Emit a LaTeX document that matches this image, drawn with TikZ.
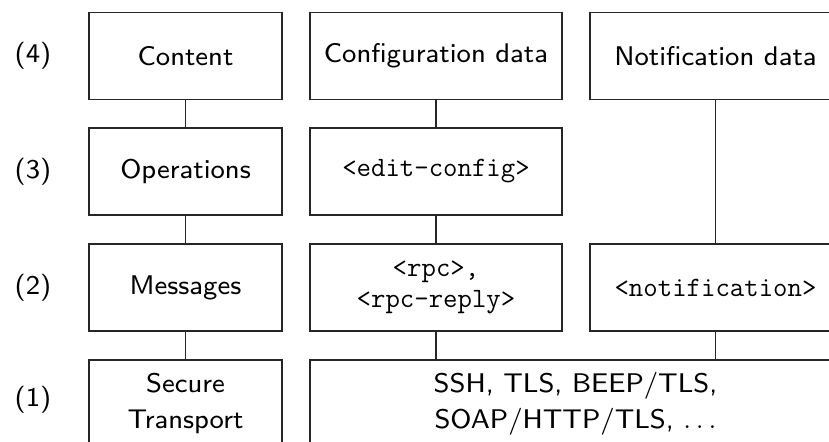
\documentclass[tikz,border=0pt]{standalone}
\usepackage{fontspec}
\setsansfont{lmsans8-regular}[Extension=.otf]
\begin{document}
\begin{tikzpicture}[x=0.5pt,y=-0.5pt,
  layer/.style={draw=black!85, line width=0.6pt, rectangle, align=center,
    inner sep=0pt, font=\sffamily\fontsize{13.5}{18}\selectfont},
  narrowcol/.style={layer, minimum width=96.5pt, minimum height=43.5pt},
  midcol/.style={layer, minimum width=126pt, minimum height=43.5pt},
  rightcol/.style={layer, minimum width=125.5pt, minimum height=43.5pt},
  tag/.style={font=\ttfamily\fontsize{14}{15.5}\selectfont},
  levellabel/.style={font=\sffamily\fontsize{13.5}{17}\selectfont},
  link/.style={draw=black!85, line width=0.6pt}]
\useasboundingbox (0,0) rectangle (829,441);
\clip (0,0) rectangle (829,441);

% level labels
\node[levellabel] (l4) at (33,56) {(4)};
\node[levellabel] (l3) at (33,171.5) {(3)};
\node[levellabel] (l2) at (33,287.5) {(2)};
\node[levellabel] (l1) at (33,400) {(1)};

% left column
\node[narrowcol] (content) at (185.5,56) {Content};
\node[narrowcol] (ops) at (185.5,171.5) {Operations};
\node[narrowcol] (msgs) at (185.5,287.5) {Messages};
\node[narrowcol] (secure) at (185.5,403.5) {Secure\\Transport};

% middle column
\node[midcol] (config) at (436,56) {Configuration data};
\node[midcol, tag] (edit) at (436,171.5) {<edit-config>};
\node[midcol, tag] (rpc) at (436,287.5) {<rpc>,\\<rpc-reply>};

% right column
\node[rightcol] (notifdata) at (715.5,56) {Notification data};
\node[rightcol, tag] (notif) at (715.5,287.5) {<notification>};

% transport protocols spanning two columns
\node[layer, minimum width=265.5pt, minimum height=43.5pt] (proto) at (575.5,403.5)
  {SSH, TLS, BEEP/TLS,\\SOAP/HTTP/TLS, $\ldots$};

% connectors
\draw[link] (content) -- (ops);
\draw[link] (ops) -- (msgs);
\draw[link] (msgs) -- (secure);
\draw[link] (config) -- (edit);
\draw[link] (edit) -- (rpc);
\draw[link] (rpc.south) -- (rpc.south |- proto.north);
\draw[link] (notifdata) -- (notif);
\draw[link] (notif.south) -- (notif.south |- proto.north);
\end{tikzpicture}
\end{document}
